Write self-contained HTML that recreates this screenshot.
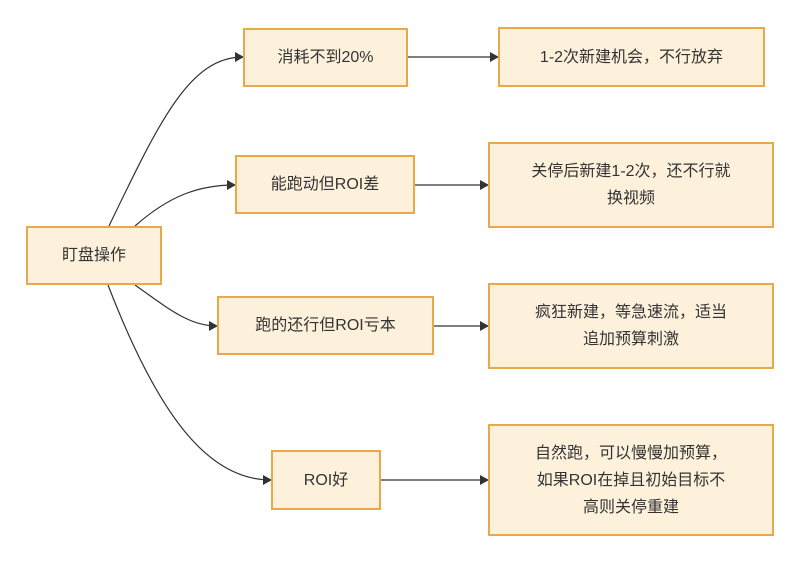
<!DOCTYPE html>
<html><head><meta charset="utf-8"><style>
body{margin:0;background:#fff;width:807px;height:564px;overflow:hidden;position:relative;font-family:"Liberation Sans","Noto Sans CJK SC",sans-serif;}
.b{position:absolute;box-sizing:border-box;background:#fdf1dc;border:2.5px solid #e9a849;display:flex;align-items:center;justify-content:center;text-align:center;font-size:16px;color:#333;line-height:27px;}
svg{position:absolute;left:0;top:0}
</style></head><body>
<svg width="807" height="564">
<defs><marker id="a" markerWidth="10" markerHeight="10" refX="8" refY="5" orient="auto" markerUnits="userSpaceOnUse"><path d="M0,0L9,5L0,10z" fill="#333"/></marker></defs>
<g fill="none" stroke="#333" stroke-width="1.2" marker-end="url(#a)">
<path d="M109,226 C160,120 190,57 243,57"/>
<path d="M135,226 C170,195 200,185 235,185"/>
<path d="M135,285 C170,310 190,326 217,326"/>
<path d="M108,285 C160,420 210,480 271,480"/>
<path d="M408,57 L498,57"/>
<path d="M415,185 L488,185"/>
<path d="M434,326 L488,326"/>
<path d="M381,480 L488,480"/>
</g></svg>
<div class="b" style="left:26px;top:226px;width:136px;height:59px">盯盘操作</div>
<div class="b" style="left:243px;top:28px;width:165px;height:59px">消耗不到20%</div>
<div class="b" style="left:235px;top:155px;width:180px;height:59px">能跑动但ROI差</div>
<div class="b" style="left:217px;top:296px;width:217px;height:59px">跑的还行但ROI亏本</div>
<div class="b" style="left:271px;top:450px;width:110px;height:60px">ROI好</div>
<div class="b" style="left:498px;top:27px;width:267px;height:60px">1-2次新建机会，不行放弃</div>
<div class="b" style="left:488px;top:142px;width:286px;height:86px">关停后新建1-2次，还不行就<br>换视频</div>
<div class="b" style="left:488px;top:283px;width:286px;height:86px">疯狂新建，等急速流，适当<br>追加预算刺激</div>
<div class="b" style="left:488px;top:424px;width:286px;height:112px">自然跑，可以慢慢加预算，<br>如果ROI在掉且初始目标不<br>高则关停重建</div>
</body></html>
